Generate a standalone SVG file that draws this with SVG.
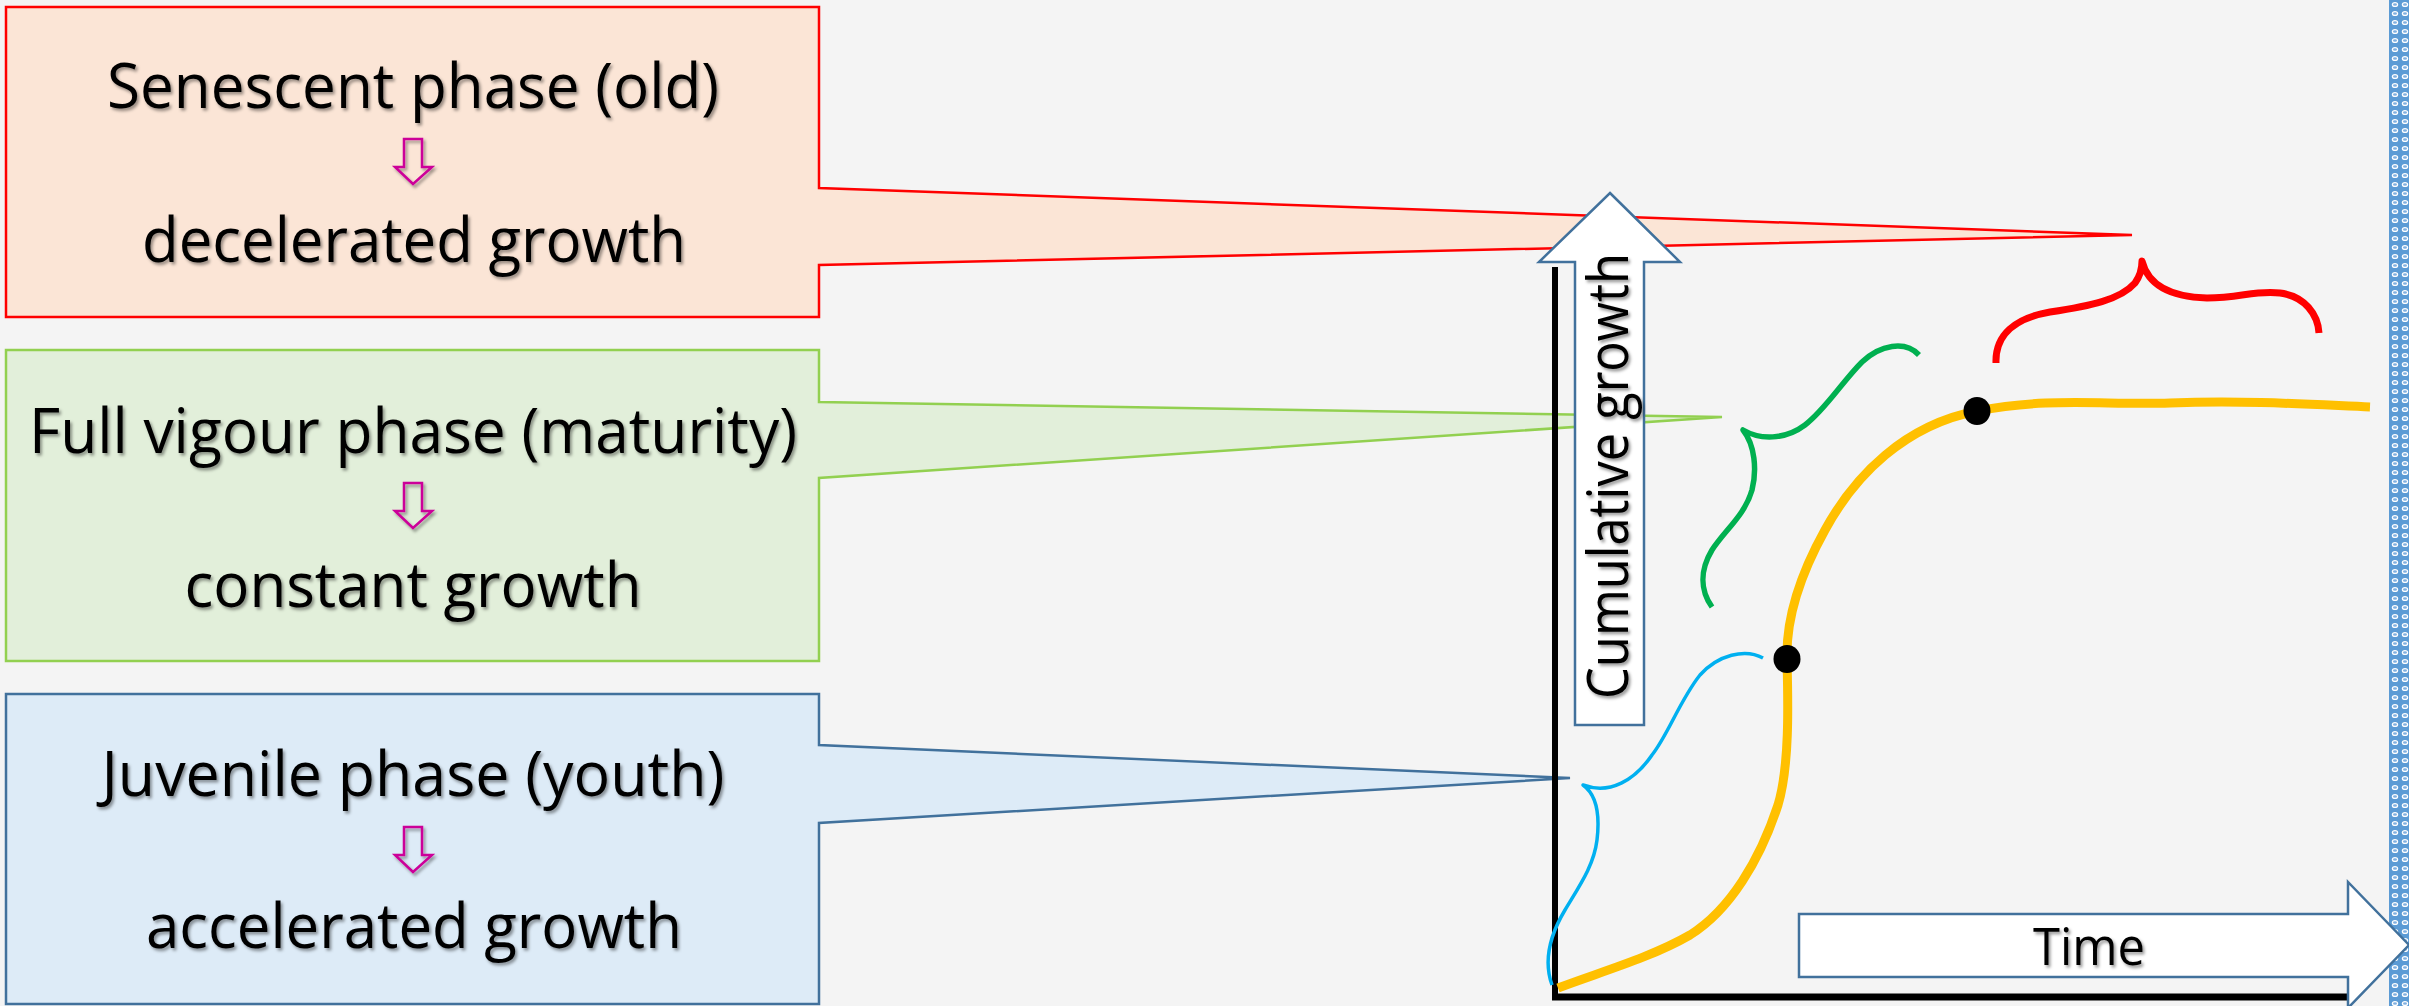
<svg xmlns="http://www.w3.org/2000/svg" xmlns:xlink="http://www.w3.org/1999/xlink" width="2409" height="1006" viewBox="0 0 2409 1006">
  <style>
    .lbl { font-family: "Open Sans", "Noto Sans", "Liberation Sans", sans-serif; font-size: 62px; fill: #000; text-anchor: middle; }
    .callout { stroke-width: 2.5; stroke-linejoin: miter; }
    .blockarrow { fill: #FFFFFF; stroke: #41719C; stroke-width: 2.5; }
    .brace { fill: none; stroke-linecap: butt; stroke-linejoin: round; }
    .dot { fill: #000; }
    .phasearrow { fill: none; stroke: #CC0099; stroke-width: 2.5; }
  </style>
  <defs>
    <filter id="shadow" x="-10%" y="-30%" width="120%" height="160%">
      <feDropShadow dx="2" dy="2.5" stdDeviation="1.6" flood-color="#000" flood-opacity="0.4"/>
    </filter>
    <pattern id="strip" x="2390" y="0" width="10" height="9" patternUnits="userSpaceOnUse">
      <rect width="10" height="9" fill="#5B9BD5"/>
      <ellipse cx="5" cy="4.5" rx="3.2" ry="2.6" fill="#FFFFFF"/>
      <ellipse cx="5" cy="4.5" rx="2" ry="1.3" fill="#7FB0E0"/>
    </pattern>
    <path id="darr" d="M9,0 H27 V28 H37 L18,45 L0,28 H9 Z"/>
  </defs>

  <rect width="2409" height="1006" fill="#F4F4F4"/>
  <rect x="2389" y="0" width="20" height="1006" fill="url(#strip)"/>

  <g id="senescent">
    <path class="callout" d="M6,7 H819 V188 L2132,235 L819,265 V317 H6 Z" fill="#FBE5D6" stroke="#FF0000"/>
    <g filter="url(#shadow)">
      <text class="lbl" x="413" y="108" textLength="612" lengthAdjust="spacingAndGlyphs">Senescent phase (old)</text>
      <text class="lbl" x="414" y="262" textLength="544" lengthAdjust="spacingAndGlyphs">decelerated growth</text>
      <use href="#darr" class="phasearrow" transform="translate(395,139)"/>
    </g>
  </g>

  <g id="full-vigour">
    <path class="callout" d="M6,350 H819 V402 L1722,417 L819,478 V661 H6 Z" fill="#E2EFDA" stroke="#92D050"/>
    <g filter="url(#shadow)">
      <text class="lbl" x="413" y="453" textLength="768" lengthAdjust="spacingAndGlyphs">Full vigour phase (maturity)</text>
      <text class="lbl" x="413" y="607" textLength="457" lengthAdjust="spacingAndGlyphs">constant growth</text>
      <use href="#darr" class="phasearrow" transform="translate(395,483)"/>
    </g>
  </g>

  <g id="juvenile">
    <path class="callout" d="M6,694 H819 V745 L1570,778 L819,823 V1004 H6 Z" fill="#DDEBF7" stroke="#41719C"/>
    <g filter="url(#shadow)">
      <text class="lbl" x="413" y="796" textLength="623" lengthAdjust="spacingAndGlyphs">Juvenile phase (youth)</text>
      <text class="lbl" x="414" y="948" textLength="536" lengthAdjust="spacingAndGlyphs">accelerated growth</text>
      <use href="#darr" class="phasearrow" transform="translate(395,827)"/>
    </g>
  </g>

  <g id="axes">
    <line x1="1555" y1="267" x2="1555" y2="1000" stroke="#000" stroke-width="6"/>
    <line x1="1552" y1="997" x2="2350" y2="997" stroke="#000" stroke-width="7"/>
  </g>

  <g id="cumulative-growth">
    <path class="blockarrow" d="M1610,193 L1680,262 L1644,262 L1644,725 L1575,725 L1575,262 L1539,262 Z"/>
    <g filter="url(#shadow)">
      <text class="lbl" transform="translate(1628,476) rotate(-90)" style="font-size:56px" textLength="446" lengthAdjust="spacingAndGlyphs">Cumulative growth</text>
    </g>
  </g>

  <g id="time">
    <path class="blockarrow" d="M1799,914 H2348 V882 L2409,945 L2348,1008 V977 H1799 Z"/>
    <g filter="url(#shadow)">
      <text class="lbl" x="2089" y="965" style="font-size:51px" textLength="112" lengthAdjust="spacingAndGlyphs">Time</text>
    </g>
  </g>

  <g id="connectors">
    <path id="growth-curve" class="brace" stroke="#FFC000" stroke-width="9" d="M1558,988 C1600,972 1650,958 1690,935 C1730,910 1760,860 1778,805 C1790,765 1788,700 1787,659 C1786,620 1800,575 1825,530 C1855,475 1905,425 1977,411 C2050,397 2100,405 2170,403 C2250,400 2320,405 2370,407"/>
    <path id="brace-juvenile" class="brace" stroke="#00B0F0" stroke-width="3.5" d="M1763,658 C1745,648 1718,655 1700,675 C1680,700 1668,735 1652,755 C1635,780 1610,795 1583,785 C1597,795 1600,815 1597,840 C1594,865 1580,885 1565,910 C1550,935 1543,960 1552,985"/>
    <path id="brace-maturity" class="brace" stroke="#00B050" stroke-width="5.5" d="M1919,355 C1905,340 1880,345 1862,362 C1842,382 1825,410 1805,425 C1785,440 1760,440 1743,430 C1755,445 1757,470 1752,490 C1745,515 1725,530 1712,550 C1700,570 1700,590 1712,607"/>
    <path id="brace-senescent" class="brace" stroke="#FF0000" stroke-width="7" d="M1996,363 C1995,335 2015,318 2050,312 C2090,306 2120,300 2135,283 C2140,276 2142,268 2142,261 C2148,285 2170,297 2207,298 C2240,298 2255,290 2280,293 C2305,296 2318,315 2319,333"/>
    <ellipse class="dot" cx="1787" cy="659" rx="13.5" ry="14"/>
    <ellipse class="dot" cx="1977" cy="411" rx="13.5" ry="14"/>
  </g>
</svg>
